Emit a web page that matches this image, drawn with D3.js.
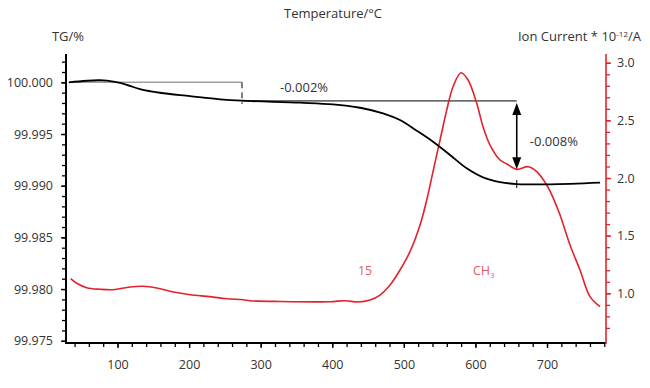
<!DOCTYPE html>
<html><head><meta charset="utf-8">
<script src="https://cdn.jsdelivr.net/npm/d3@7"></script>
<style>body{margin:0;background:#fff}svg{display:block}text{font-family:"Open Sans",sans-serif}</style>
</head><body><svg id="c" width="650" height="388"></svg>
<script>
// ---- data ----
const tgTemp = [32,72.8,85.3,103.5,117.5,131.4,159.4,201.3,243.2,273.9,355,401,438.8,470.9,494.6,518,540.8,564.5,587.8,610.6,634.4,657.7,704.2,774.1];
const tgValue = [100.0000,100.0002,100.00017,99.99995,99.99965,99.99935,99.99899,99.99867,99.99836,99.99822,99.99803,99.99787,99.99754,99.99700,99.99635,99.99532,99.99425,99.99297,99.99168,99.99081,99.99035,99.99016,99.99013,99.99029];
const ionTemp = [34.6,43,57,75.6,93.7,117.5,136,154.8,178,201.3,229.2,252.6,275.7,285.1,327,396.9,417.8,436,452.7,466.7,480.7,494.6,508.6,522.6,532,541.2,550.6,559.9,568.7,579.9,589.7,601.8,610.6,620.4,634.4,644.1,657.7,673.9,685.6,699.6,708.8,718.2,732.1,746.1,760.1,774.1];
const ionValue = [1.127,1.087,1.049,1.035,1.031,1.055,1.061,1.046,1.011,0.988,0.971,0.953,0.944,0.936,0.929,0.927,0.936,0.925,0.942,0.985,1.072,1.202,1.361,1.592,1.809,2.069,2.330,2.590,2.792,2.913,2.850,2.648,2.445,2.286,2.156,2.121,2.075,2.098,2.055,1.939,1.824,1.679,1.419,1.202,0.971,0.884];
const xMajorTicks = [100,200,300,400,500,600,700];
const xMinorTicks = d3.range(40,781,20);
const yLeftMajorTicks = [99.975,99.980,99.985,99.990,99.995,100.000];
const yLeftMinorTicks = d3.range(0,28).map(i=>+(99.975+i*0.001).toFixed(3));
const yRightMajorTicks = [1.0,1.5,2.0,2.5,3.0];
const yRightMinorTicks = d3.range(7,31).map(i=>+(i/10).toFixed(1));
// annotation values
const stepTemp = 273.9, endTemp = 657.7;
const level0 = 100.000, level1 = 99.9982, level2 = 99.99016, arrowEnd = 99.99158;

// ---- chart ----
const svg = d3.select("#c");
const L=66,R=606,T=54,B=343;
const x = d3.scaleLinear().domain([28.05,782.4]).range([L,R]);
const yL = d3.scaleLinear().domain([99.97478,100.00274]).range([B,T]);
const yR = d3.scaleLinear().domain([0.569,3.0755]).range([B,T]);
const red="#e3222b", txt="#333";

function styleAxis(g,color){
  g.selectAll(".domain").remove();
  g.selectAll("line").attr("stroke",color).attr("stroke-width",1.3);
  g.selectAll("text").attr("fill",txt).attr("font-size","12.5px");
}
// x axis
svg.append("g").attr("transform",`translate(0,${B})`)
  .call(d3.axisBottom(x).tickValues(xMinorTicks).tickSize(4).tickFormat(""))
  .call(g=>styleAxis(g,"#000"));
svg.append("g").attr("transform",`translate(0,${B})`)
  .call(d3.axisBottom(x).tickValues(xMajorTicks).tickSize(5).tickPadding(12).tickFormat(d3.format("d")))
  .call(g=>styleAxis(g,"#000"));
// left axis
svg.append("g").attr("transform",`translate(${L},0)`)
  .call(d3.axisLeft(yL).tickValues(yLeftMinorTicks).tickSize(4).tickFormat(""))
  .call(g=>styleAxis(g,"#000"));
svg.append("g").attr("transform",`translate(${L},0)`)
  .call(d3.axisLeft(yL).tickValues(yLeftMajorTicks).tickSize(5).tickPadding(8).tickFormat(d3.format(".3f")))
  .call(g=>styleAxis(g,"#000"));
// right axis
svg.append("g").attr("transform",`translate(${R},0)`)
  .call(d3.axisRight(yR).tickValues(yRightMinorTicks).tickSize(4).tickFormat(""))
  .call(g=>styleAxis(g,red));
svg.append("g").attr("transform",`translate(${R},0)`)
  .call(d3.axisRight(yR).tickValues(yRightMajorTicks).tickSize(5).tickPadding(6).tickFormat(d3.format(".1f")))
  .call(g=>styleAxis(g,red));
// axis lines
svg.append("line").attr("x1",L).attr("x2",L).attr("y1",T).attr("y2",B+1).attr("stroke","#000").attr("stroke-width",2);
svg.append("line").attr("x1",L).attr("x2",R).attr("y1",B).attr("y2",B).attr("stroke","#000").attr("stroke-width",2);
svg.append("line").attr("x1",R).attr("x2",R).attr("y1",T).attr("y2",B+1).attr("stroke",red).attr("stroke-width",1.6);

// titles
svg.append("text").attr("x",333).attr("y",18).attr("text-anchor","middle").attr("fill",txt).attr("font-size","13px").text("Temperature/°C");
svg.append("text").attr("x",68).attr("y",41).attr("text-anchor","middle").attr("fill",txt).attr("font-size","13px").text("TG/%");
const ic = svg.append("text").attr("x",641).attr("y",41).attr("text-anchor","end").attr("fill",txt).attr("font-size","13px");
ic.append("tspan").text("Ion Current * 10");
ic.append("tspan").attr("font-size","8px").attr("dy","-4").text("-12");
ic.append("tspan").attr("dy","4").text("/A");

// gray reference & annotation lines
svg.append("line").attr("x1",x(tgTemp[0])).attr("x2",x(stepTemp)).attr("y1",yL(level0)).attr("y2",yL(level0)).attr("stroke","#a0a0a0").attr("stroke-width",1.5);
svg.append("line").attr("x1",x(stepTemp)).attr("x2",x(stepTemp)).attr("y1",yL(level0)).attr("y2",yL(level1)+3).attr("stroke","#000").attr("stroke-width",1).attr("stroke-dasharray","6,4");
svg.append("line").attr("x1",x(stepTemp)).attr("x2",x(endTemp)).attr("y1",yL(level1)).attr("y2",yL(level1)).attr("stroke","#000").attr("stroke-width",1);
svg.append("line").attr("x1",x(endTemp)).attr("x2",x(endTemp)).attr("y1",yL(level2)-4).attr("y2",yL(level2)+4).attr("stroke","#000").attr("stroke-width",1);

// curves
const lineTG = d3.line().x(d=>x(d[0])).y(d=>yL(d[1])).curve(d3.curveCatmullRom);
const lineIon = d3.line().x(d=>x(d[0])).y(d=>yR(d[1])).curve(d3.curveCatmullRom);
svg.append("path").attr("d",lineIon(d3.zip(ionTemp,ionValue))).attr("fill","none").attr("stroke",red).attr("stroke-width",1.6);
svg.append("path").attr("d",lineTG(d3.zip(tgTemp,tgValue))).attr("fill","none").attr("stroke","#000").attr("stroke-width",1.8);

// arrow
const ax = x(endTemp), ay1 = yL(level1)+2, ay2 = yL(arrowEnd);
svg.append("line").attr("x1",ax).attr("x2",ax).attr("y1",ay1+10).attr("y2",ay2-10).attr("stroke","#000").attr("stroke-width",1.6);
svg.append("path").attr("d",`M${ax},${ay1} L${ax-4.5},${ay1+12} L${ax+4.5},${ay1+12} Z`).attr("fill","#000");
svg.append("path").attr("d",`M${ax},${ay2} L${ax-4.5},${ay2-12} L${ax+4.5},${ay2-12} Z`).attr("fill","#000");

// labels
svg.append("text").attr("x",x(327)).attr("y",yL(99.99906)).attr("fill",txt).attr("font-size","13px").text("-0.002%");
svg.append("text").attr("x",x(676)).attr("y",yL(99.99384)).attr("fill",txt).attr("font-size","13px").text("-0.008%");
svg.append("text").attr("x",x(445.8)).attr("y",yR(1.163)).attr("text-anchor","middle").attr("fill","#e55a5f").attr("font-size","12.5px").text("15");
const ch = svg.append("text").attr("x",x(596.6)).attr("y",yR(1.163)).attr("fill","#e55a5f").attr("font-size","12.5px");
ch.append("tspan").text("CH");
ch.append("tspan").attr("font-size","8px").attr("dy","3").text("3");
</script></body></html>
